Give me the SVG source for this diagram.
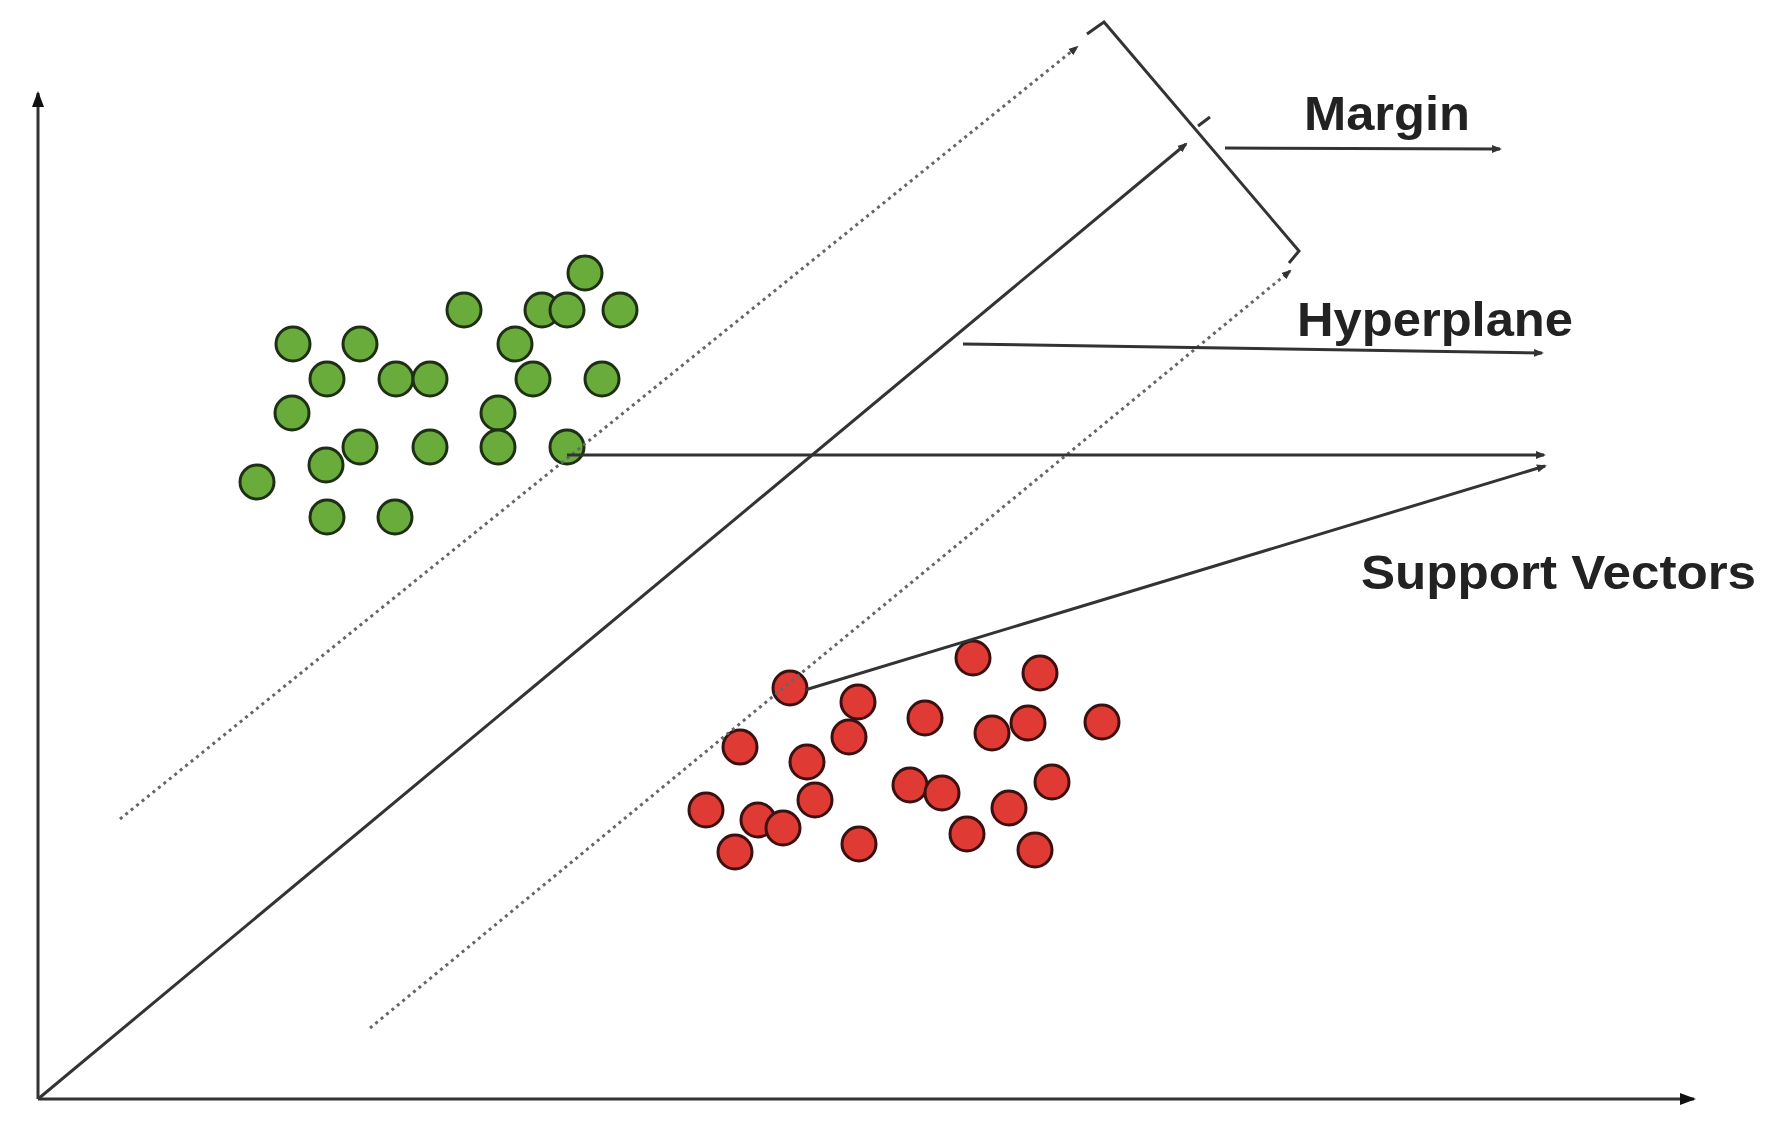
<svg xmlns="http://www.w3.org/2000/svg" width="1775" height="1131" viewBox="0 0 1775 1131">
<style>
.ln{stroke:#333;stroke-width:3;fill:none}
.dot{stroke:#666;stroke-width:3;fill:none;stroke-dasharray:3 4}
.g{fill:#6aac3c;stroke:#1f2f14;stroke-width:3}
.r{fill:#e03a34;stroke:#3a1010;stroke-width:3}
.t{font-family:"Liberation Sans",Arial,sans-serif;font-weight:bold;fill:#222}
</style>
<defs>
<marker id="a" markerWidth="10" markerHeight="10" refX="8" refY="5" orient="auto" markerUnits="userSpaceOnUse"><path d="M0,1 L10,5 L0,9 Z" fill="#333"/></marker>
<marker id="ab" markerWidth="16" markerHeight="16" refX="14" refY="8" orient="auto" markerUnits="userSpaceOnUse"><path d="M0,2 L16,8 L0,14 Z" fill="#111"/></marker>
</defs>
<g id="axes">
<line class="ln" x1="38" y1="1099" x2="38" y2="93" marker-end="url(#ab)"/>
<line class="ln" x1="38" y1="1099" x2="1694" y2="1099" marker-end="url(#ab)"/>
</g>
<g id="green">
<circle class="g" cx="585" cy="273" r="17"/><circle class="g" cx="464" cy="310" r="17"/><circle class="g" cx="542" cy="310" r="17"/><circle class="g" cx="567" cy="310" r="17"/><circle class="g" cx="620" cy="310" r="17"/><circle class="g" cx="293" cy="344" r="17"/><circle class="g" cx="360" cy="344" r="17"/><circle class="g" cx="515" cy="344" r="17"/><circle class="g" cx="327" cy="379" r="17"/><circle class="g" cx="396" cy="379" r="17"/><circle class="g" cx="430" cy="379" r="17"/><circle class="g" cx="533" cy="379" r="17"/><circle class="g" cx="602" cy="379" r="17"/><circle class="g" cx="292" cy="413" r="17"/><circle class="g" cx="498" cy="413" r="17"/><circle class="g" cx="360" cy="447" r="17"/><circle class="g" cx="430" cy="447" r="17"/><circle class="g" cx="498" cy="447" r="17"/><circle class="g" cx="567" cy="447" r="17"/><circle class="g" cx="326" cy="465" r="17"/><circle class="g" cx="257" cy="482" r="17"/><circle class="g" cx="327" cy="517" r="17"/><circle class="g" cx="395" cy="517" r="17"/>
</g>
<g id="red">
<circle class="r" cx="790" cy="688" r="17"/><circle class="r" cx="973" cy="658" r="17"/><circle class="r" cx="1040" cy="673" r="17"/><circle class="r" cx="858" cy="702" r="17"/><circle class="r" cx="925" cy="718" r="17"/><circle class="r" cx="992" cy="733" r="17"/><circle class="r" cx="1028" cy="723" r="17"/><circle class="r" cx="1102" cy="722" r="17"/><circle class="r" cx="740" cy="747" r="17"/><circle class="r" cx="849" cy="737" r="17"/><circle class="r" cx="807" cy="762" r="17"/><circle class="r" cx="910" cy="785" r="17"/><circle class="r" cx="942" cy="793" r="17"/><circle class="r" cx="1052" cy="782" r="17"/><circle class="r" cx="1009" cy="808" r="17"/><circle class="r" cx="815" cy="800" r="17"/><circle class="r" cx="706" cy="810" r="17"/><circle class="r" cx="758" cy="820" r="17"/><circle class="r" cx="783" cy="828" r="17"/><circle class="r" cx="735" cy="852" r="17"/><circle class="r" cx="859" cy="844" r="17"/><circle class="r" cx="967" cy="834" r="17"/><circle class="r" cx="1035" cy="850" r="17"/>
</g>
<g id="connectors">
<line class="dot" x1="120" y1="819" x2="1077" y2="47" marker-end="url(#a)"/>
<line class="dot" x1="370" y1="1028" x2="1290" y2="271" marker-end="url(#a)"/>
<line class="ln" x1="38" y1="1099" x2="1186" y2="144" marker-end="url(#a)"/>
<polyline class="ln" stroke-width="2.5" points="1087,34 1104,22 1299,251 1289,263"/>
<line class="ln" stroke-width="2.5" x1="1198" y1="126" x2="1210" y2="117"/>
<line class="ln" x1="1225" y1="148" x2="1500" y2="149" marker-end="url(#a)"/>
<line class="ln" x1="963" y1="344" x2="1542" y2="353" marker-end="url(#a)"/>
<line class="ln" x1="567" y1="455" x2="1544" y2="455" marker-end="url(#a)"/>
<line class="ln" x1="805" y1="690" x2="1545" y2="466" marker-end="url(#a)"/>
</g>
<g id="labels">
<text class="t" x="1304" y="130" font-size="48" textLength="166" lengthAdjust="spacingAndGlyphs">Margin</text>
<text class="t" x="1297" y="336" font-size="48" textLength="276" lengthAdjust="spacingAndGlyphs">Hyperplane</text>
<text class="t" x="1361" y="589" font-size="48" textLength="395" lengthAdjust="spacingAndGlyphs">Support Vectors</text>
</g>
</svg>
